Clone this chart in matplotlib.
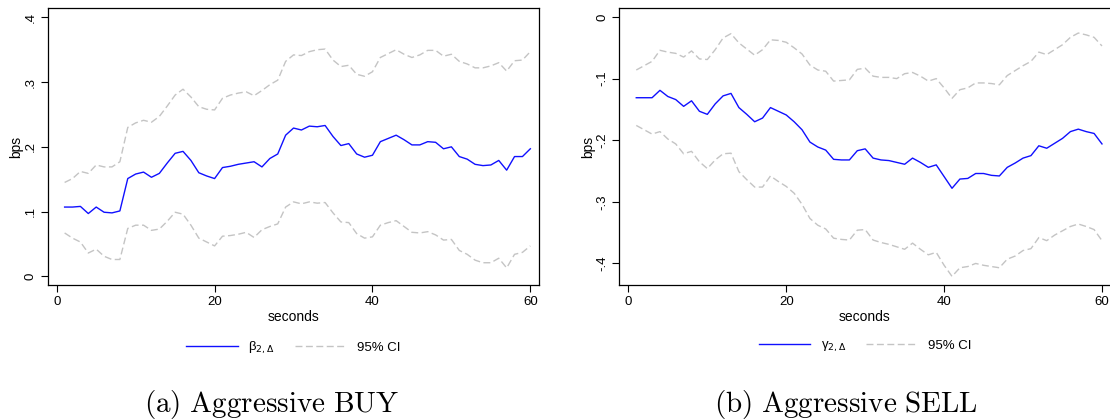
import matplotlib
matplotlib.use("Agg")
import matplotlib.pyplot as plt

plt.rcParams['font.family'] = ['Liberation Sans', 'DejaVu Sans']

seconds = list(range(1, 61))

# (a) Aggressive BUY
buy_coef = [0.107, 0.107, 0.108, 0.097, 0.107, 0.099, 0.098, 0.101, 0.151, 0.158,
            0.161, 0.153, 0.159, 0.175, 0.190, 0.193, 0.179, 0.160, 0.155, 0.151,
            0.168, 0.170, 0.173, 0.175, 0.177, 0.169, 0.182, 0.189, 0.218, 0.229,
            0.226, 0.232, 0.231, 0.233, 0.216, 0.202, 0.205, 0.189, 0.184, 0.187,
            0.208, 0.213, 0.218, 0.211, 0.203, 0.203, 0.208, 0.207, 0.197, 0.200,
            0.185, 0.181, 0.173, 0.171, 0.172, 0.179, 0.164, 0.185, 0.185, 0.197]
buy_hi = [0.145, 0.151, 0.162, 0.159, 0.172, 0.169, 0.169, 0.177, 0.230, 0.237,
          0.241, 0.238, 0.247, 0.263, 0.280, 0.289, 0.277, 0.262, 0.258, 0.257,
          0.275, 0.280, 0.283, 0.285, 0.279, 0.287, 0.296, 0.303, 0.332, 0.342,
          0.341, 0.347, 0.350, 0.351, 0.334, 0.324, 0.326, 0.312, 0.309, 0.316,
          0.338, 0.344, 0.350, 0.343, 0.338, 0.342, 0.349, 0.349, 0.340, 0.343,
          0.332, 0.328, 0.322, 0.322, 0.325, 0.330, 0.317, 0.333, 0.334, 0.347]
buy_lo = [0.067, 0.059, 0.053, 0.036, 0.042, 0.031, 0.026, 0.026, 0.074, 0.079,
          0.079, 0.071, 0.073, 0.085, 0.099, 0.096, 0.079, 0.059, 0.053, 0.047,
          0.062, 0.063, 0.065, 0.068, 0.060, 0.072, 0.077, 0.081, 0.107, 0.115,
          0.112, 0.115, 0.113, 0.114, 0.098, 0.084, 0.083, 0.066, 0.059, 0.061,
          0.079, 0.083, 0.086, 0.077, 0.068, 0.067, 0.069, 0.064, 0.056, 0.057,
          0.040, 0.034, 0.025, 0.021, 0.021, 0.028, 0.013, 0.034, 0.037, 0.047]

# (b) Aggressive SELL
sell_coef = [-0.131, -0.131, -0.131, -0.119, -0.129, -0.134, -0.145, -0.136, -0.153, -0.158,
             -0.141, -0.128, -0.124, -0.147, -0.158, -0.170, -0.164, -0.147, -0.153, -0.159,
             -0.170, -0.183, -0.203, -0.211, -0.216, -0.231, -0.232, -0.232, -0.217, -0.214,
             -0.229, -0.232, -0.233, -0.236, -0.239, -0.229, -0.236, -0.244, -0.240, -0.259,
             -0.278, -0.263, -0.262, -0.254, -0.254, -0.257, -0.258, -0.244, -0.237, -0.229,
             -0.225, -0.209, -0.213, -0.205, -0.197, -0.186, -0.182, -0.186, -0.189, -0.206]
sell_hi = [-0.086, -0.079, -0.072, -0.054, -0.057, -0.059, -0.065, -0.055, -0.068, -0.069,
           -0.053, -0.034, -0.027, -0.042, -0.052, -0.062, -0.053, -0.037, -0.038, -0.041,
           -0.050, -0.060, -0.078, -0.086, -0.088, -0.104, -0.103, -0.102, -0.085, -0.083,
           -0.096, -0.098, -0.098, -0.100, -0.092, -0.090, -0.096, -0.104, -0.100, -0.115,
           -0.132, -0.118, -0.115, -0.107, -0.107, -0.108, -0.110, -0.095, -0.087, -0.079,
           -0.072, -0.057, -0.061, -0.053, -0.045, -0.033, -0.026, -0.029, -0.033, -0.047]
sell_lo = [-0.176, -0.183, -0.190, -0.186, -0.198, -0.206, -0.222, -0.218, -0.235, -0.246,
           -0.232, -0.222, -0.221, -0.251, -0.264, -0.276, -0.276, -0.258, -0.267, -0.275,
           -0.286, -0.304, -0.327, -0.338, -0.344, -0.359, -0.361, -0.362, -0.346, -0.345,
           -0.362, -0.366, -0.369, -0.373, -0.377, -0.367, -0.377, -0.386, -0.382, -0.403,
           -0.421, -0.407, -0.405, -0.400, -0.403, -0.405, -0.407, -0.393, -0.388, -0.379,
           -0.376, -0.358, -0.363, -0.354, -0.347, -0.340, -0.336, -0.340, -0.345, -0.363]

x_ticks = [0, 20, 40, 60]
buy_yticks = [0, 0.1, 0.2, 0.3, 0.4]
buy_ylabels = ['0', '.1', '.2', '.3', '.4']
sell_yticks = [0, -0.1, -0.2, -0.3, -0.4]
sell_ylabels = ['0', '-.1', '-.2', '-.3', '-.4']

BLUE = '#1010ff'
GREY = '#c4c4c4'


def panel(ax, coef, hi, lo, label, yticks, ylabels, ylim):
    ax.plot(seconds, coef, color=BLUE, lw=1.0, label=label)
    ax.plot(seconds, hi, color=GREY, lw=1.0, dashes=(5, 2.5), label='95% CI')
    ax.plot(seconds, lo, color=GREY, lw=1.0, dashes=(5, 2.5))
    ax.set_xlim(-1.14, 61.1)
    ax.set_ylim(*ylim)
    ax.set_xticks(x_ticks)
    ax.set_yticks(yticks)
    ax.set_yticklabels(ylabels, rotation=90, va='center')
    ax.tick_params(direction='out', length=5, width=0.8, labelsize=9.5, pad=3)
    ax.set_xlabel('seconds', fontsize=10, labelpad=1)
    ax.set_ylabel('bps', fontsize=10, labelpad=1)
    for s in ax.spines.values():
        s.set_linewidth(0.9)
    handles, labels = ax.get_legend_handles_labels()
    ax.legend(handles, labels, loc='upper center', bbox_to_anchor=(0.5, -0.155),
              ncol=2, frameon=False, fontsize=9.5, handlelength=3.9,
              handletextpad=0.8, columnspacing=1.5)


fig = plt.figure(figsize=(11.1, 4.2), dpi=100)
ax1 = fig.add_axes([0.043, 0.3214, 0.4426, 0.6595])
ax2 = fig.add_axes([0.558, 0.3214, 0.4426, 0.6595])

panel(ax1, buy_coef, buy_hi, buy_lo, r'β$_{2,\Delta}$', buy_yticks, buy_ylabels, (-0.0134, 0.4144))
panel(ax2, sell_coef, sell_hi, sell_lo, r'γ$_{2,\Delta}$', sell_yticks, sell_ylabels, (-0.435, 0.0146))

fig.text(0.245, 0.036, r'$\mathrm{(a)\ Aggressive\ BUY}$', ha='center', va='center',
         fontsize=21, math_fontfamily='cm')
fig.text(0.762, 0.036, r'$\mathrm{(b)\ Aggressive\ SELL}$', ha='center', va='center',
         fontsize=21, math_fontfamily='cm')

fig.savefig('out.png', dpi=100)
